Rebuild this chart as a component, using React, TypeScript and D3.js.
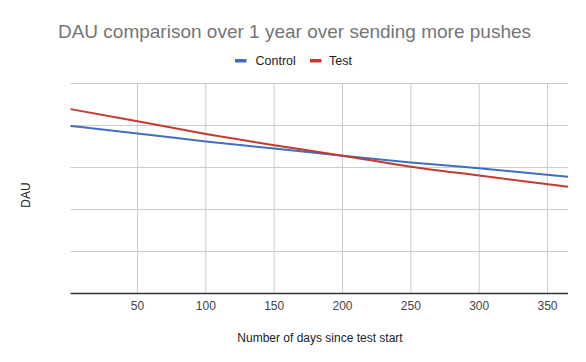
import React, { useEffect, useRef } from "react";
import * as d3 from "d3";

const days: number[] = [1, 50, 100, 150, 200, 250, 300, 365];
const controlValues: number[] = [3.99, 3.81, 3.62, 3.45, 3.28, 3.12, 2.98, 2.78];
const testValues: number[] = [4.39, 4.1, 3.8, 3.53, 3.28, 3.02, 2.81, 2.54];
const xTicks: number[] = [50, 100, 150, 200, 250, 300, 350];
const yGrid: number[] = [0, 1, 2, 3, 4, 5];
const seriesNames: string[] = ["Control", "Test"];
const seriesColors: string[] = ["#3f6fc4", "#c43a31"];

const W = 586;
const H = 362;
const PLOT = { left: 70.5, right: 568, top: 83.5, bottom: 293.5 };
const FONT = "'Liberation Sans', Arial, sans-serif";

export default function App() {
  const ref = useRef<SVGSVGElement | null>(null);

  useEffect(() => {
    const svg = d3.select(ref.current);
    svg.selectAll("*").remove();

    const x = d3.scaleLinear().domain([1, 365]).range([PLOT.left, PLOT.right]);
    const y = d3.scaleLinear().domain([0, 5]).range([PLOT.bottom, PLOT.top]);

    svg.append("rect").attr("width", W).attr("height", H).attr("fill", "#fff");

    // title
    svg.append("text")
      .attr("x", 294.5).attr("y", 37.5)
      .attr("text-anchor", "middle")
      .attr("font-family", FONT).attr("font-size", 19)
      .attr("fill", "#757575")
      .text("DAU comparison over 1 year over sending more pushes");

    // legend
    const legendX = [235, 310];
    const textX = [255.5, 329];
    seriesNames.forEach((name, i) => {
      svg.append("rect")
        .attr("x", legendX[i]).attr("y", 59)
        .attr("width", 11.5).attr("height", 3.5)
        .attr("fill", seriesColors[i]);
      svg.append("text")
        .attr("x", textX[i]).attr("y", 65)
        .attr("font-family", FONT).attr("font-size", 12.5)
        .attr("fill", "#222")
        .text(name);
    });

    // horizontal grid
    svg.append("g").selectAll("line").data(yGrid.slice(1)).join("line")
      .attr("x1", PLOT.left).attr("x2", PLOT.right)
      .attr("y1", (d) => y(d)).attr("y2", (d) => y(d))
      .attr("stroke", "#cccccc").attr("stroke-width", 1);

    // vertical grid
    svg.append("g").selectAll("line").data(xTicks).join("line")
      .attr("x1", (d) => x(d)).attr("x2", (d) => x(d))
      .attr("y1", PLOT.top).attr("y2", PLOT.bottom)
      .attr("stroke", "#cccccc").attr("stroke-width", 1);

    // x tick labels
    svg.append("g").selectAll("text").data(xTicks).join("text")
      .attr("x", (d) => x(d)).attr("y", 310)
      .attr("text-anchor", "middle")
      .attr("font-family", FONT).attr("font-size", 12)
      .attr("fill", "#444")
      .text((d) => String(d));

    // baseline
    svg.append("line")
      .attr("x1", PLOT.left).attr("x2", PLOT.right)
      .attr("y1", y(0)).attr("y2", y(0))
      .attr("stroke", "#333").attr("stroke-width", 1.5);

    // lines
    const line = d3.line<[number, number]>()
      .x((d) => x(d[0])).y((d) => y(d[1]))
      .curve(d3.curveMonotoneX);
    [controlValues, testValues].forEach((vals, i) => {
      const pts: [number, number][] = days.map((d, j) => [d, vals[j]]);
      svg.append("path")
        .attr("d", line(pts) as string)
        .attr("fill", "none")
        .attr("stroke", seriesColors[i])
        .attr("stroke-width", 2);
    });

    // axis titles
    svg.append("text")
      .attr("x", 320).attr("y", 341.5)
      .attr("text-anchor", "middle")
      .attr("font-family", FONT).attr("font-size", 12)
      .attr("fill", "#222")
      .text("Number of days since test start");

    svg.append("text")
      .attr("transform", "translate(29.5,195) rotate(-90)")
      .attr("text-anchor", "middle")
      .attr("font-family", FONT).attr("font-size", 12)
      .attr("fill", "#222")
      .text("DAU");
  }, []);

  return (
    <svg
      ref={ref}
      width={W}
      height={H}
      style={{ position: "absolute", left: 0, top: 0, display: "block" }}
    />
  );
}
